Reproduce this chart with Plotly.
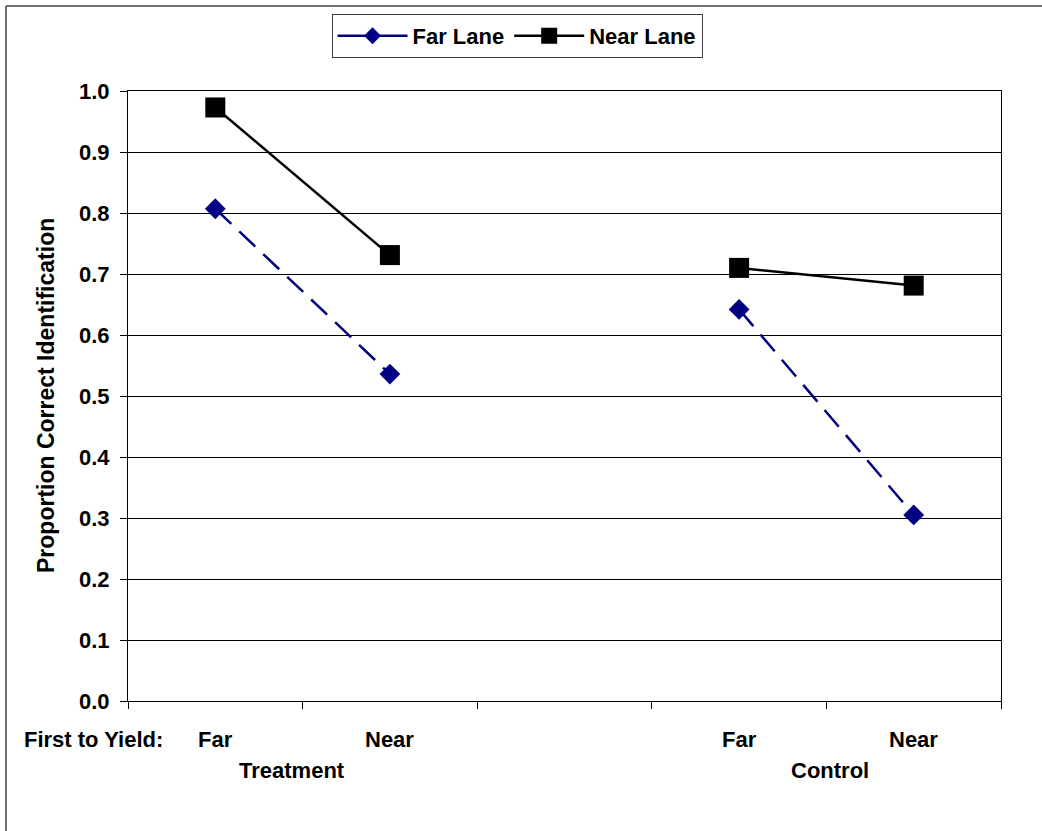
import plotly.graph_objects as go

# ---- data ----
categories = ["Far", "Near", " ", "Far ", "Near "]
groups = ["Treatment", "Control"]
far_lane = [0.807, 0.536, None, 0.642, 0.305]
near_lane = [0.973, 0.731, None, 0.710, 0.681]
y_ticks = [0.0, 0.1, 0.2, 0.3, 0.4, 0.5, 0.6, 0.7, 0.8, 0.9, 1.0]

W, H = 1042, 831
L, R, T, B = 128, 41, 91, 130
pw, ph = W - L - R, H - T - B

def px_x(x):
    return (x - L) / pw

def px_y(y):
    return (H - B - y) / ph

FONT = "Liberation Sans, Arial, sans-serif"
NAVY = "#000080"
FS = 22
BFONT = dict(size=FS, family=FONT, color="black", weight="bold")

fig = go.Figure()

# real traces (legend hidden)
fig.add_trace(go.Scatter(
    x=categories, y=far_lane, mode="lines+markers", name="Far Lane",
    line=dict(color=NAVY, width=2.5, dash="22px,11px"),
    marker=dict(symbol="diamond", size=16, color=NAVY),
    connectgaps=False, showlegend=False))
fig.add_trace(go.Scatter(
    x=categories, y=near_lane, mode="lines+markers", name="Near Lane",
    line=dict(color="black", width=2.5),
    marker=dict(symbol="square", size=20, color="black"),
    connectgaps=False, showlegend=False))

# legend entries (solid samples as in the reference legend)
fig.add_trace(go.Scatter(
    x=[None], y=[None], mode="lines+markers", name="Far Lane",
    line=dict(color=NAVY, width=2.5),
    marker=dict(symbol="diamond", size=13, color=NAVY)))
fig.add_trace(go.Scatter(
    x=[None], y=[None], mode="lines+markers", name="Near Lane",
    line=dict(color="black", width=2.5),
    marker=dict(symbol="square", size=16, color="black")))

annotations = [
    dict(text="Proportion Correct Identification", textangle=-90,
         xref="paper", yref="paper", x=px_x(46), y=px_y(396),
         xanchor="center", yanchor="middle", showarrow=False,
         font=dict(size=23, family=FONT, color="black", weight="bold")),
    dict(text="First to Yield:", xref="paper", yref="paper",
         x=px_x(22), y=px_y(739), xanchor="left", yanchor="middle",
         showarrow=False, font=BFONT),
    dict(text=groups[0], xref="paper", yref="paper",
         x=px_x(292), y=px_y(771), xanchor="center", yanchor="middle",
         showarrow=False, font=BFONT),
    dict(text=groups[1], xref="paper", yref="paper",
         x=px_x(830), y=px_y(771), xanchor="center", yanchor="middle",
         showarrow=False, font=BFONT),
]
for c in categories:
    if c.strip():
        annotations.append(dict(text=c.strip(), xref="x", yref="paper",
                                x=c, y=px_y(739), xanchor="center",
                                yanchor="middle", showarrow=False, font=BFONT))

shapes = [
    dict(type="line", xref="paper", yref="paper",
         x0=px_x(6), x1=px_x(6), y0=px_y(6), y1=px_y(860),
         line=dict(color="#404040", width=1.5)),
    dict(type="line", xref="paper", yref="paper",
         x0=px_x(6), x1=px_x(1060), y0=px_y(6), y1=px_y(6),
         line=dict(color="#404040", width=1.5)),
]

fig.update_layout(
    width=W, height=H,
    margin=dict(l=L, r=R, t=T, b=B),
    paper_bgcolor="white", plot_bgcolor="white",
    font=BFONT,
    showlegend=True,
    legend=dict(orientation="h", x=px_x(517), y=px_y(14),
                xanchor="center", yanchor="top",
                bgcolor="white", bordercolor="#404040", borderwidth=1,
                font=BFONT, itemwidth=70, tracegroupgap=0),
    xaxis=dict(type="category", categoryorder="array", categoryarray=categories,
               range=[-0.5, len(categories) - 0.5],
               tickson="boundaries", ticks="outside", ticklen=7,
               tickcolor="black", showline=True, linecolor="black",
               linewidth=1, mirror=True, showgrid=False, zeroline=False,
               showticklabels=False),
    yaxis=dict(range=[0, 1], tickvals=y_ticks, tickformat=".1f",
               ticks="outside", ticklen=7, tickcolor="black",
               ticklabelstandoff=6,
               showline=True, linecolor="black", linewidth=1, mirror=True,
               showgrid=True, gridcolor="black", gridwidth=1, zeroline=False,
               tickfont=BFONT),
    annotations=annotations,
    shapes=shapes,
)

fig.write_html("out.html", config={"displayModeBar": False},
               post_script="document.body.style.margin='0px';")
